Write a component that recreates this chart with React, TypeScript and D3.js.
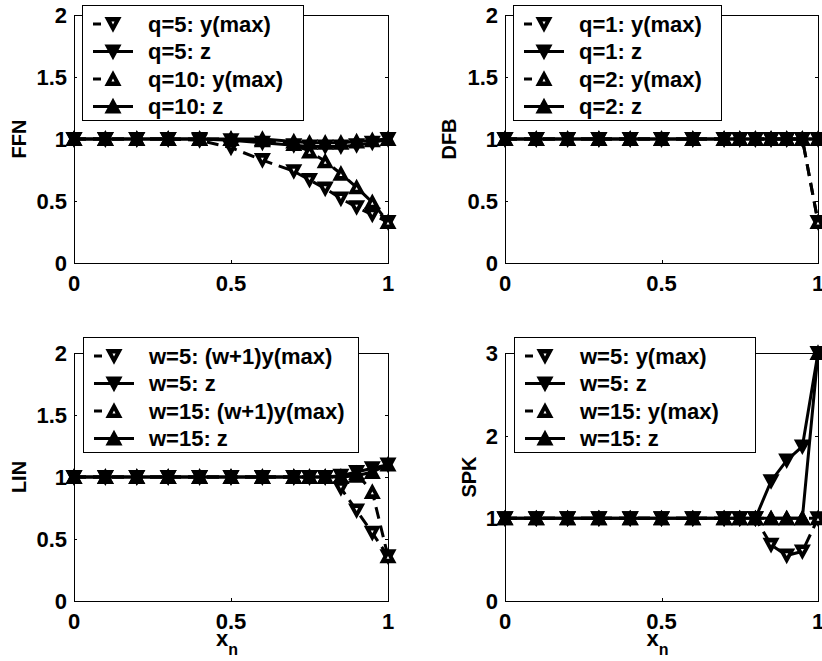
import React from 'react';
import * as d3 from 'd3';

// ---- data ----
const xGrid = [0, 0.1, 0.2, 0.3, 0.4, 0.5, 0.6, 0.7, 0.75, 0.8, 0.85, 0.9, 0.95, 1];
const xTicks = [0, 0.5, 1];
const yTicksHalf = [0, 0.5, 1, 1.5, 2];
const yTicksSpk = [0, 1, 2, 3];

const ffnQ5Ymax = [1, 1, 1, 1, 0.99, 0.93, 0.83, 0.74, 0.67, 0.6, 0.52, 0.45, 0.39, 0.33];
const ffnQ5Z = [1, 1, 1, 1, 1, 0.99, 0.97, 0.95, 0.94, 0.94, 0.94, 0.95, 0.97, 1];
const ffnQ10Ymax = [1, 1, 1, 1, 1, 1, 0.99, 0.96, 0.9, 0.82, 0.72, 0.61, 0.49, 0.33];
const ffnQ10Z = [1, 1, 1, 1, 1, 1, 1, 0.98, 0.97, 0.97, 0.97, 0.98, 0.99, 1];

const dfbQ1Ymax = [1, 1, 1, 1, 1, 1, 1, 1, 1, 1, 1, 1, 1, 0.33];
const dfbQ1Z = [1, 1, 1, 1, 1, 1, 1, 1, 1, 1, 1, 1, 1, 1];
const dfbQ2Ymax = [1, 1, 1, 1, 1, 1, 1, 1, 1, 1, 1, 1, 1, 0.33];
const dfbQ2Z = [1, 1, 1, 1, 1, 1, 1, 1, 1, 1, 1, 1, 1, 1];

const linW5Ymax = [1, 1, 1, 1, 1, 1, 1, 1, 1, 1, 0.91, 0.73, 0.55, 0.36];
const linW5Z = [1, 1, 1, 1, 1, 1, 1, 1, 1, 1, 1.01, 1.04, 1.07, 1.1];
const linW15Ymax = [1, 1, 1, 1, 1, 1, 1, 1, 1, 1, 1, 1.03, 0.88, 0.36];
const linW15Z = [1, 1, 1, 1, 1, 1, 1, 1, 1, 1, 1, 1.01, 1.04, 1.1];

const spkW5Ymax = [1, 1, 1, 1, 1, 1, 1, 1, 1, 1, 0.68, 0.55, 0.6, 1];
const spkW5Z = [1, 1, 1, 1, 1, 1, 1, 1, 1, 1, 1.45, 1.7, 1.87, 3];
const spkW15Ymax = [1, 1, 1, 1, 1, 1, 1, 1, 1, 1, 1, 1, 1, 1];
const spkW15Z = [1, 1, 1, 1, 1, 1, 1, 1, 1, 1, 1, 1, 1, 3];

const ffnLegend = ['q=5: y(max)', 'q=5: z', 'q=10: y(max)', 'q=10: z'];
const dfbLegend = ['q=1: y(max)', 'q=1: z', 'q=2: y(max)', 'q=2: z'];
const linLegend = ['w=5: (w+1)y(max)', 'w=5: z', 'w=15: (w+1)y(max)', 'w=15: z'];
const spkLegend = ['w=5: y(max)', 'w=5: z', 'w=15: y(max)', 'w=15: z'];

const panelNames = ['FFN', 'DFB', 'LIN', 'SPK'];
const xLabelMain = 'x';
const xLabelSub = 'n';

// ---- styles ----
const FONT = "'Liberation Sans', Arial, Helvetica, sans-serif";
const FS = 22;
const seriesStyle = [
  { dashed: true, down: true },
  { dashed: false, down: true },
  { dashed: true, down: false },
  { dashed: false, down: false },
];

function triPath(down: boolean, a: number, h: number) {
  return down
    ? `M${-a},${-h}L${a},${-h}L0,${h}Z`
    : `M${-a},${h}L${a},${h}L0,${-h}Z`;
}

function Marker({ x, y, down, dashed }: { x: number; y: number; down: boolean; dashed: boolean }) {
  return (
    <g transform={`translate(${x},${y})`}>
      <path d={triPath(down, 6, 5.5)} fill="black" stroke="black" strokeWidth={3} strokeLinejoin="miter" />
      {dashed && <path d={triPath(down, 1.5, 1.4)} transform={`translate(0,${down ? -1 : 1})`} fill="white" />}
    </g>
  );
}

type PanelProps = {
  x0: number; y0: number; w: number; h: number;
  yMax: number; yTicks: number[]; name: string; nameX: number;
  series: number[][]; labels: string[];
  legend: { x: number; y: number; w: number; h: number };
  showXLabel: boolean;
};

function Panel(p: PanelProps) {
  const xs = d3.scaleLinear().domain([0, 1]).range([p.x0, p.x0 + p.w]);
  const ys = d3.scaleLinear().domain([0, p.yMax]).range([p.y0 + p.h, p.y0]);
  const line = d3.line<number>().x((_, i) => xs(xGrid[i])).y((d) => ys(d));
  const tl = 3;
  const cy = p.y0 + p.h / 2;
  const rowOff = [19, 46.5, 74, 101.5];
  return (
    <g>
      <rect x={p.x0 + 0.5} y={p.y0 + 0.5} width={p.w} height={p.h} fill="white" stroke="black" strokeWidth={1} shapeRendering="crispEdges" />
      {p.yTicks.map((t) => (
        <g key={'y' + t}>
          <line x1={p.x0} x2={p.x0 + tl} y1={Math.round(ys(t)) + 0.5} y2={Math.round(ys(t)) + 0.5} stroke="black" />
          <line x1={p.x0 + p.w} x2={p.x0 + p.w - tl} y1={Math.round(ys(t)) + 0.5} y2={Math.round(ys(t)) + 0.5} stroke="black" />
          <text x={p.x0 - 7} y={ys(t)} dy="0.36em" textAnchor="end" fontFamily={FONT} fontWeight="bold" fontSize={FS}>{String(t)}</text>
        </g>
      ))}
      {xTicks.map((t) => (
        <g key={'x' + t}>
          <line x1={Math.round(xs(t)) + 0.5} x2={Math.round(xs(t)) + 0.5} y1={p.y0 + p.h} y2={p.y0 + p.h - tl} stroke="black" />
          <line x1={Math.round(xs(t)) + 0.5} x2={Math.round(xs(t)) + 0.5} y1={p.y0} y2={p.y0 + tl} stroke="black" />
          <text x={xs(t)} y={p.y0 + p.h + 20} dy="0.36em" textAnchor="middle" fontFamily={FONT} fontWeight="bold" fontSize={FS}>{String(t)}</text>
        </g>
      ))}
      <text transform={`translate(${p.nameX},${cy}) rotate(-90)`} textAnchor="middle" fontFamily={FONT} fontWeight="bold" fontSize={FS - 2}>{p.name}</text>
      {p.showXLabel && (
        <text x={xs(0.5) - 4} y={p.y0 + p.h + 45} textAnchor="middle" fontFamily={FONT} fontWeight="bold" fontSize={FS}>
          {xLabelMain}
          <tspan dy={9} fontSize={FS - 6}>{xLabelSub}</tspan>
        </text>
      )}
      {p.series.map((s, i) => {
        const st = seriesStyle[i];
        return (
          <g key={'s' + i}>
            <path d={line(s) || ''} fill="none" stroke="black" strokeWidth={3} strokeDasharray={st.dashed ? '12,7' : undefined} />
            {s.map((v, j) => (
              <Marker key={j} x={xs(xGrid[j])} y={ys(v)} down={st.down} dashed={st.dashed} />
            ))}
          </g>
        );
      })}
      <rect x={p.legend.x + 0.5} y={p.legend.y + 0.5} width={p.legend.w} height={p.legend.h} fill="white" stroke="black" strokeWidth={1} shapeRendering="crispEdges" />
      {p.labels.map((lab, i) => {
        const st = seriesStyle[i];
        const ry = p.legend.y + rowOff[i];
        const lx = p.legend.x + 11;
        return (
          <g key={'l' + i}>
            <line x1={lx} x2={lx + 40} y1={ry} y2={ry} stroke="black" strokeWidth={3} strokeDasharray={st.dashed ? '8,60' : undefined} />
            <Marker x={lx + 20} y={ry} down={st.down} dashed={st.dashed} />
            <text x={p.legend.x + 66} y={ry} dy="0.36em" fontFamily={FONT} fontWeight="bold" fontSize={FS}>{lab}</text>
          </g>
        );
      })}
    </g>
  );
}

export default function App() {
  const W = 822, H = 661;
  return (
    <svg width={W} height={H} style={{ position: 'absolute', left: 0, top: 0, background: 'white' }}>
      <rect x={0} y={0} width={W} height={H} fill="white" />
      <Panel x0={74} y0={15} w={314} h={248} yMax={2} yTicks={yTicksHalf} name={panelNames[0]} nameX={26}
        series={[ffnQ5Ymax, ffnQ5Z, ffnQ10Ymax, ffnQ10Z]} labels={ffnLegend}
        legend={{ x: 82, y: 5, w: 221, h: 115 }} showXLabel={false} />
      <Panel x0={505} y0={15} w={313} h={248} yMax={2} yTicks={yTicksHalf} name={panelNames[1]} nameX={456}
        series={[dfbQ1Ymax, dfbQ1Z, dfbQ2Ymax, dfbQ2Z]} labels={dfbLegend}
        legend={{ x: 513, y: 5, w: 208, h: 115 }} showXLabel={false} />
      <Panel x0={74} y0={353} w={314} h={248} yMax={2} yTicks={yTicksHalf} name={panelNames[2]} nameX={26}
        series={[linW5Ymax, linW5Z, linW15Ymax, linW15Z]} labels={linLegend}
        legend={{ x: 83, y: 337, w: 275, h: 115 }} showXLabel={true} />
      <Panel x0={505} y0={353} w={313} h={248} yMax={3} yTicks={yTicksSpk} name={panelNames[3]} nameX={476}
        series={[spkW5Ymax, spkW5Z, spkW15Ymax, spkW15Z]} labels={spkLegend}
        legend={{ x: 514, y: 337, w: 241, h: 115 }} showXLabel={true} />
    </svg>
  );
}
